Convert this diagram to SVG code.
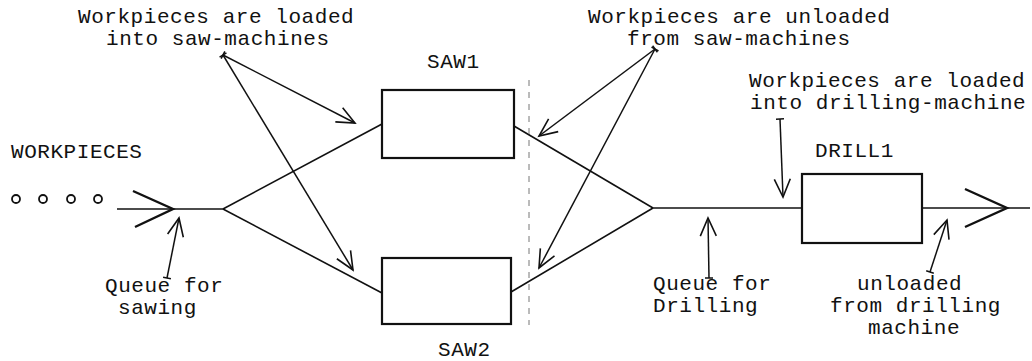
<svg xmlns="http://www.w3.org/2000/svg" width="1032" height="361" viewBox="0 0 1032 361">
<style>
text{font-family:"Liberation Mono","Courier New",monospace;font-size:21px;letter-spacing:0.55px;fill:#111}
.ln{stroke:#111;stroke-width:1.6;fill:none}
.box{stroke:#111;stroke-width:2.2;fill:#fff}
.ann{stroke:#111;stroke-width:1.5;fill:none;marker-end:url(#ah);marker-start:url(#tk)}
.big{stroke:#111;stroke-width:2.4;fill:none;stroke-linejoin:miter}
.dot{stroke:#777;stroke-width:1;stroke-dasharray:6 6;fill:none}
.wp{stroke:#111;stroke-width:1.8;fill:none}
</style>
<defs>
<marker id="ah" markerUnits="userSpaceOnUse" markerWidth="22" markerHeight="18" refX="18" refY="8" orient="auto" overflow="visible">
<path d="M0,0 L18,8 L0,16" fill="none" stroke="#111" stroke-width="1.6"/>
</marker>
<marker id="tk" markerUnits="userSpaceOnUse" markerWidth="10" markerHeight="10" refX="0" refY="0" orient="auto" overflow="visible">
<path d="M0,-4 L0,4" fill="none" stroke="#111" stroke-width="1.5"/>
</marker>
</defs>
<g id="labels">
<text x="78" y="23">Workpieces are loaded</text>
<text x="106" y="45">into saw-machines</text>
<text x="588" y="23">Workpieces are unloaded</text>
<text x="627" y="45">from saw-machines</text>
<text x="749" y="87">Workpieces are loaded</text>
<text x="750" y="109">into drilling-machine</text>
<text x="105" y="292">Queue for</text>
<text x="118" y="314">sawing</text>
<text x="653" y="290">Queue for</text>
<text x="653" y="312">Drilling</text>
<text x="857" y="290">unloaded</text>
<text x="830" y="312">from drilling</text>
<text x="868" y="334">machine</text>
</g>
<g id="workpieces">
<text x="11" y="158">WORKPIECES</text>
<circle class="wp" cx="16" cy="199" r="4"/>
<circle class="wp" cx="43" cy="199" r="4"/>
<circle class="wp" cx="71" cy="199" r="4"/>
<circle class="wp" cx="98" cy="199" r="4"/>
</g>
<g id="saw1">
<rect class="box" x="382" y="90" width="132" height="68"/>
<text x="427" y="68">SAW1</text>
</g>
<g id="saw2">
<rect class="box" x="382" y="258" width="129" height="66"/>
<text x="438" y="356">SAW2</text>
</g>
<g id="drill1">
<rect class="box" x="802" y="174" width="120" height="69"/>
<text x="815" y="157">DRILL1</text>
</g>
<g id="connectors">
<path class="ln" d="M117,209 L223,209"/>
<path class="big" d="M133,191 L173,209 L135,227"/>
<path class="ln" d="M223,209 L382,124"/>
<path class="ln" d="M223,209 L382,293"/>
<path class="ln" d="M514,126 L653,208"/>
<path class="ln" d="M511,292 L653,208"/>
<path class="ln" d="M653,208 L802,208"/>
<path class="ln" d="M922,208 L1030,208"/>
<path class="big" d="M965,189 L1007,208 L965,227"/>
<path class="dot" d="M529,80 L529,325"/>
<path class="ann" d="M223,55 L355,123"/>
<path class="ann" d="M223,55 L353,270"/>
<path class="ann" d="M655,49 L539,136"/>
<path class="ann" d="M655,49 L539,268"/>
<path class="ann" d="M780,119 L783,197"/>
<path class="ann" d="M167,278 L179,218"/>
<path class="ann" d="M709,278 L708,218"/>
<path class="ann" d="M930,272 L947,220"/>
</g>
</svg>
